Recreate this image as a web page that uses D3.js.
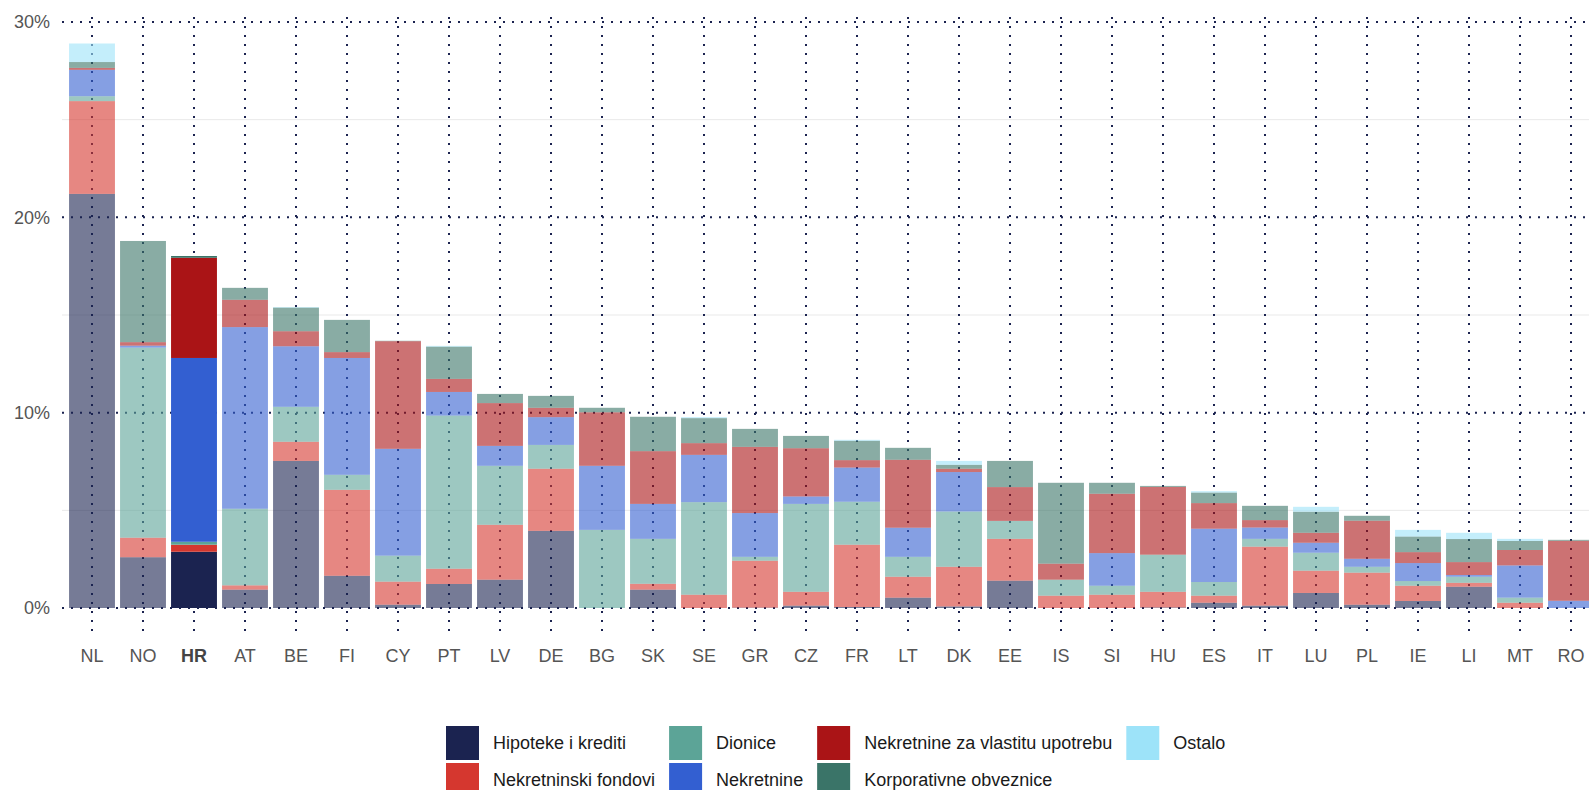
<!DOCTYPE html>
<html>
<head>
<meta charset="utf-8">
<script src="https://cdn.jsdelivr.net/npm/d3@7"></script>
<style>
  body { margin: 0; background: white; overflow: hidden; }
  text { font-family: "Liberation Sans", Arial, sans-serif; }
</style>
</head>
<body>
<script>
// data (% of assets)
var countries = ['NL','NO','HR','AT','BE','FI','CY','PT','LV','DE','BG','SK','SE','GR','CZ','FR','LT','DK','EE','IS','SI','HU','ES','IT','LU','PL','IE','LI','MT','RO'];
var hipoteke   = [21.2, 2.6, 2.88, 0.94, 7.53, 1.65, 0.17, 1.23, 1.45, 3.95, 0, 0.94, 0, 0.02, 0.12, 0.05, 0.53, 0.08, 1.4, 0, 0, 0.03, 0.27, 0.12, 0.77, 0.17, 0.36, 1.09, 0, 0];
var fondovi    = [4.75, 1.0, 0.36, 0.22, 0.98, 4.4, 1.18, 0.78, 2.81, 3.18, 0, 0.3, 0.68, 2.4, 0.71, 3.19, 1.07, 2.03, 2.14, 0.63, 0.68, 0.8, 0.36, 3.02, 1.14, 1.64, 0.78, 0.2, 0.27, 0];
var dionice    = [0.25, 9.73, 0.15, 3.92, 1.79, 0.77, 1.33, 7.84, 3.02, 1.22, 4.0, 2.3, 4.74, 0.2, 4.5, 2.2, 1.02, 2.83, 0.92, 0.82, 0.46, 1.9, 0.7, 0.4, 0.92, 0.3, 0.24, 0.31, 0.26, 0];
var nekretnine = [1.35, 0.1, 9.41, 9.3, 3.1, 5.98, 5.47, 1.21, 1.02, 1.42, 3.28, 1.79, 2.42, 2.24, 0.38, 1.75, 1.49, 2.02, 0, 0, 1.67, 0, 2.73, 0.58, 0.51, 0.41, 0.92, 0.09, 1.65, 0.37];
var vlastita   = [0.1, 0.18, 5.13, 1.4, 0.77, 0.3, 5.51, 0.67, 2.19, 0.48, 2.74, 2.7, 0.6, 3.39, 2.47, 0.38, 3.48, 0.17, 1.73, 0.82, 3.04, 3.47, 1.31, 0.38, 0.51, 1.95, 0.56, 0.66, 0.79, 3.07];
var obveznice  = [0.3, 5.18, 0.09, 0.61, 1.21, 1.65, 0.02, 1.65, 0.47, 0.61, 0.23, 1.76, 1.28, 0.92, 0.63, 0.99, 0.61, 0.2, 1.34, 4.14, 0.56, 0.05, 0.54, 0.73, 1.08, 0.25, 0.8, 1.18, 0.46, 0.05];
var ostalo     = [0.95, 0, 0, 0, 0.03, 0, 0, 0.04, 0, 0, 0, 0, 0.05, 0, 0, 0.05, 0, 0.2, 0, 0, 0, 0, 0.07, 0, 0.25, 0, 0.34, 0.32, 0.11, 0];

var seriesNames = ['Hipoteke i krediti', 'Nekretninski fondovi', 'Dionice', 'Nekretnine', 'Nekretnine za vlastitu upotrebu', 'Korporativne obveznice', 'Ostalo'];
var seriesColors = ['#1b2350', '#d5372f', '#5ca497', '#335fd1', '#aa1416', '#3a7468', '#9de3f9'];
var yTicks = [0, 10, 20, 30];
var yMinor = [5, 15, 25];
var highlight = 'HR';

var width = 1589, height = 790;
var gridColor = '#1b2350';

var svg = d3.select('body').append('svg')
  .attr('width', width)
  .attr('height', height);

var table = countries.map(function(c, i) {
  var row = {country: c};
  row[seriesNames[0]] = hipoteke[i];
  row[seriesNames[1]] = fondovi[i];
  row[seriesNames[2]] = dionice[i];
  row[seriesNames[3]] = nekretnine[i];
  row[seriesNames[4]] = vlastita[i];
  row[seriesNames[5]] = obveznice[i];
  row[seriesNames[6]] = ostalo[i];
  return row;
});

var x = d3.scaleBand()
  .domain(countries)
  .range([66.5, 1596.5])
  .paddingInner(0.1)
  .paddingOuter(0.05);

var y = d3.scaleLinear()
  .domain([0, 30])
  .range([608, 22]);

var color = d3.scaleOrdinal().domain(seriesNames).range(seriesColors);

var plotLeft = 62;

// light minor gridlines
svg.selectAll('.minor')
  .data(yMinor)
  .enter()
  .append('line')
  .attr('x1', plotLeft)
  .attr('x2', width)
  .attr('y1', function(d) { return y(d); })
  .attr('y2', function(d) { return y(d); })
  .attr('stroke', '#e9e9e9')
  .attr('stroke-width', 1);

// dotted major gridlines
svg.selectAll('.major')
  .data(yTicks)
  .enter()
  .append('line')
  .attr('x1', plotLeft)
  .attr('x2', width)
  .attr('y1', function(d) { return y(d); })
  .attr('y2', function(d) { return y(d); })
  .attr('stroke', gridColor)
  .attr('stroke-width', 2)
  .attr('stroke-dasharray', '2 7');

// dotted vertical lines at each country
svg.selectAll('.vgrid')
  .data(countries)
  .enter()
  .append('line')
  .attr('x1', function(d) { return x(d) + x.bandwidth() / 2; })
  .attr('x2', function(d) { return x(d) + x.bandwidth() / 2; })
  .attr('y1', 17)
  .attr('y2', 637)
  .attr('stroke', gridColor)
  .attr('stroke-width', 2)
  .attr('stroke-dasharray', '2 7');

// stacked bars
var stack = d3.stack().keys(seriesNames);
var layers = stack(table);

svg.selectAll('.layer')
  .data(layers)
  .enter()
  .append('g')
  .attr('fill', function(d) { return color(d.key); })
  .selectAll('rect')
  .data(function(d) { return d; })
  .enter()
  .append('rect')
  .filter(function(d) { return d[1] - d[0] > 0; })
  .attr('x', function(d) { return x(d.data.country); })
  .attr('width', x.bandwidth())
  .attr('y', function(d) { return y(d[1]); })
  .attr('height', function(d) { return y(d[0]) - y(d[1]); })
  .attr('fill-opacity', function(d) { return d.data.country == highlight ? 1 : 0.6; });

// y tick labels
svg.selectAll('.ylabel')
  .data(yTicks)
  .enter()
  .append('text')
  .text(function(d) { return d + '%'; })
  .attr('x', 50)
  .attr('y', function(d) { return y(d); })
  .attr('dy', '0.35em')
  .attr('text-anchor', 'end')
  .attr('font-size', '18px')
  .attr('fill', '#555');

// x labels
svg.selectAll('.xlabel')
  .data(countries)
  .enter()
  .append('text')
  .text(function(d) { return d; })
  .attr('x', function(d) { return x(d) + x.bandwidth() / 2; })
  .attr('y', 662)
  .attr('text-anchor', 'middle')
  .attr('font-size', '18px')
  .attr('font-weight', function(d) { return d == highlight ? 'bold' : 'normal'; })
  .attr('fill', function(d) { return d == highlight ? '#444' : '#555'; });

// legend: 4 columns, 2 rows
var legendCols = [[0, 1], [2, 3], [4, 5], [6]];
var legend = svg.append('g').attr('transform', 'translate(446,726)');
var colX = 0;
legendCols.forEach(function(col) {
  var maxW = 0;
  col.forEach(function(si, r) {
    var g = legend.append('g').attr('transform', 'translate(' + colX + ',' + (r * 37) + ')');
    g.append('rect')
      .attr('width', 33)
      .attr('height', 34)
      .attr('fill', seriesColors[si]);
    var t = g.append('text')
      .text(seriesNames[si])
      .attr('x', 47)
      .attr('y', 17)
      .attr('dy', '0.35em')
      .attr('font-size', '18px')
      .attr('fill', '#1a1a1a');
    maxW = Math.max(maxW, t.node().getComputedTextLength());
  });
  colX += 47 + maxW + 14;
});
</script>
</body>
</html>
